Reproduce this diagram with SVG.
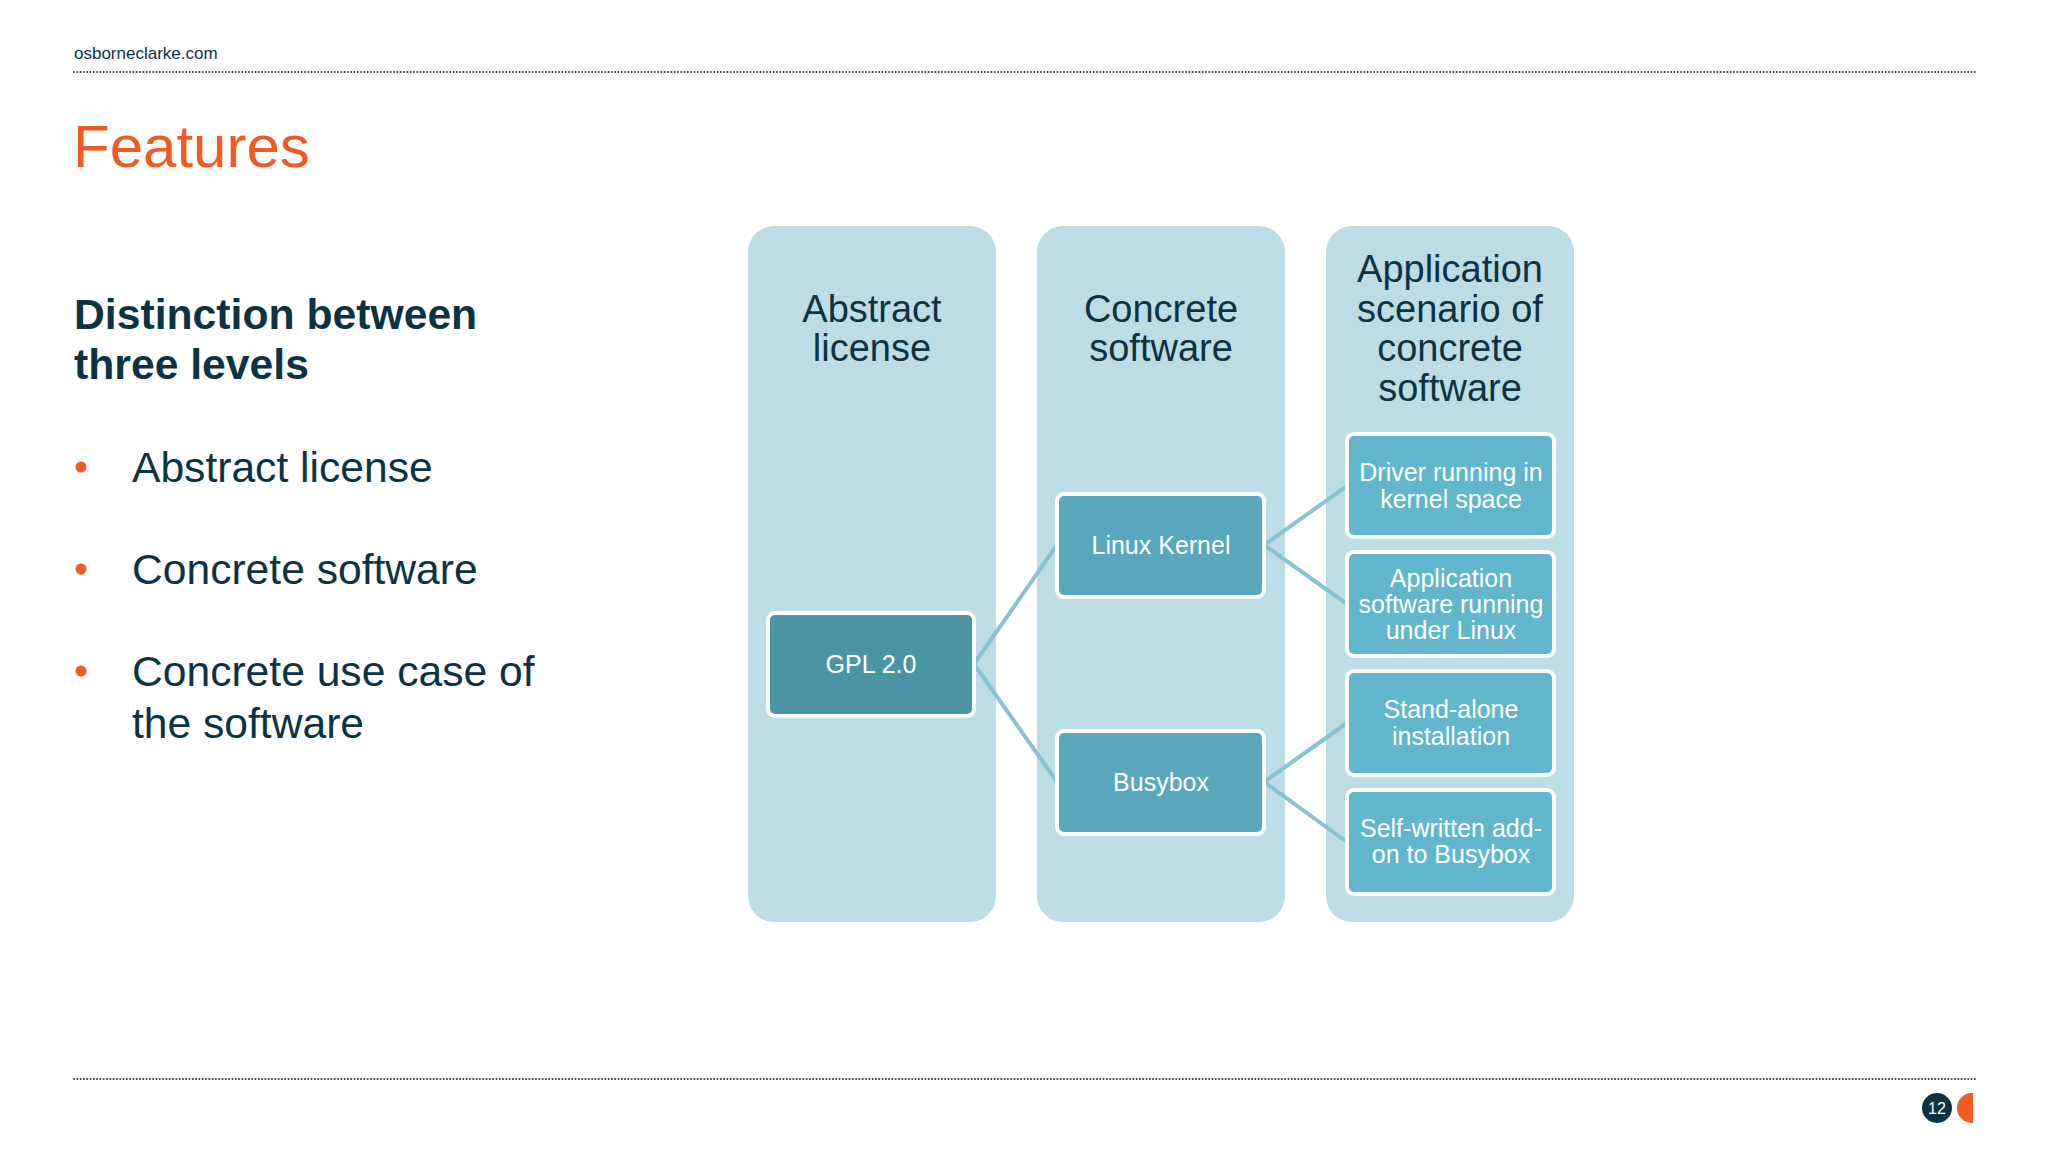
<svg xmlns="http://www.w3.org/2000/svg" width="2048" height="1152" viewBox="0 0 2048 1152">
<defs>
<style>
.t{font-family:"Liberation Sans",Arial,sans-serif;}
.navy{fill:#0c3343;}
.col{fill:#bcdde6;}
.hdr{font-size:38px;text-anchor:middle;fill:#0c3343;}
.node rect{stroke:#ffffff;stroke-width:4;}
.lbl{font-size:25px;fill:#ffffff;text-anchor:middle;}
.bul{font-size:42.6px;fill:#0c3343;}
.dot{fill:#f15a22;}
.dash{stroke:#333333;stroke-width:2;stroke-dasharray:0 3.3;stroke-linecap:round;fill:none;}
.conn line{stroke:#86c2d2;stroke-width:4;}
</style>
<clipPath id="pgclip"><rect x="1940" y="1090" width="33" height="40"/></clipPath>
</defs>
<rect width="2048" height="1152" fill="#ffffff"/>

<g id="header">
<text class="t navy" x="74" y="59" font-size="17">osborneclarke.com</text>
<line class="dash" x1="74" y1="72" x2="1975" y2="72"/>
<text class="t" x="73" y="167" font-size="60" fill="#f15a22">Features</text>
</g>

<g id="left-text">
<text class="t navy" x="74" y="329" font-size="42.7" font-weight="bold">Distinction between</text>
<text class="t navy" x="74" y="379" font-size="42.7" font-weight="bold">three levels</text>
<circle class="dot" cx="81" cy="467" r="5.5"/>
<text class="t bul" x="132" y="482">Abstract license</text>
<circle class="dot" cx="81" cy="569" r="5.5"/>
<text class="t bul" x="132" y="584">Concrete software</text>
<circle class="dot" cx="81" cy="671" r="5.5"/>
<text class="t bul" x="132" y="686">Concrete use case of</text>
<text class="t bul" x="132" y="738">the software</text>
</g>

<g id="col-abstract">
<rect class="col" x="748" y="226" width="248" height="696" rx="26"/>
<text class="t hdr" x="872" y="322">Abstract</text>
<text class="t hdr" x="872" y="361">license</text>
</g>
<g id="col-concrete">
<rect class="col" x="1037" y="226" width="248" height="696" rx="26"/>
<text class="t hdr" x="1161" y="322">Concrete</text>
<text class="t hdr" x="1161" y="361">software</text>
</g>
<g id="col-application">
<rect class="col" x="1326" y="226" width="248" height="696" rx="26"/>
<text class="t hdr" x="1450" y="282">Application</text>
<text class="t hdr" x="1450" y="322">scenario of</text>
<text class="t hdr" x="1450" y="361">concrete</text>
<text class="t hdr" x="1450" y="401">software</text>
</g>

<g id="connectors" class="conn">
<line x1="974" y1="664" x2="1057" y2="545"/>
<line x1="974" y1="664" x2="1057" y2="782"/>
<line x1="1264" y1="545" x2="1347" y2="486"/>
<line x1="1264" y1="545" x2="1347" y2="604"/>
<line x1="1264" y1="782" x2="1347" y2="723"/>
<line x1="1264" y1="782" x2="1347" y2="842"/>
</g>

<g id="node-gpl" class="node">
<rect x="768" y="613" width="206" height="103" rx="7" fill="#4b94a6"/>
<text class="t lbl" x="871" y="673">GPL 2.0</text>
</g>
<g id="node-linux" class="node">
<rect x="1057" y="494" width="207" height="103" rx="7" fill="#58a7bc"/>
<text class="t lbl" x="1161" y="554">Linux Kernel</text>
</g>
<g id="node-busybox" class="node">
<rect x="1057" y="731" width="207" height="103" rx="7" fill="#58a7bc"/>
<text class="t lbl" x="1161" y="791">Busybox</text>
</g>
<g id="node-driver" class="node">
<rect x="1347" y="434" width="207" height="103" rx="7" fill="#61b6cd"/>
<text class="t lbl" x="1451" y="481">Driver running in</text>
<text class="t lbl" x="1451" y="508">kernel space</text>
</g>
<g id="node-appsw" class="node">
<rect x="1347" y="552" width="207" height="104" rx="7" fill="#61b6cd"/>
<text class="t lbl" x="1451" y="587">Application</text>
<text class="t lbl" x="1451" y="613">software running</text>
<text class="t lbl" x="1451" y="639">under Linux</text>
</g>
<g id="node-standalone" class="node">
<rect x="1347" y="671" width="207" height="104" rx="7" fill="#61b6cd"/>
<text class="t lbl" x="1451" y="718">Stand-alone</text>
<text class="t lbl" x="1451" y="745">installation</text>
</g>
<g id="node-selfwritten" class="node">
<rect x="1347" y="790" width="207" height="104" rx="7" fill="#61b6cd"/>
<text class="t lbl" x="1451" y="837">Self-written add-</text>
<text class="t lbl" x="1451" y="863">on to Busybox</text>
</g>

<g id="footer">
<line class="dash" x1="74" y1="1079" x2="1975" y2="1079"/>
<circle cx="1937" cy="1108" r="15" fill="#0c3343"/>
<text class="t" x="1937" y="1114" font-size="16" fill="#ffffff" text-anchor="middle">12</text>
<g clip-path="url(#pgclip)">
<circle cx="1972" cy="1108" r="15" fill="#f15a22"/>
</g>
</g>
</svg>
